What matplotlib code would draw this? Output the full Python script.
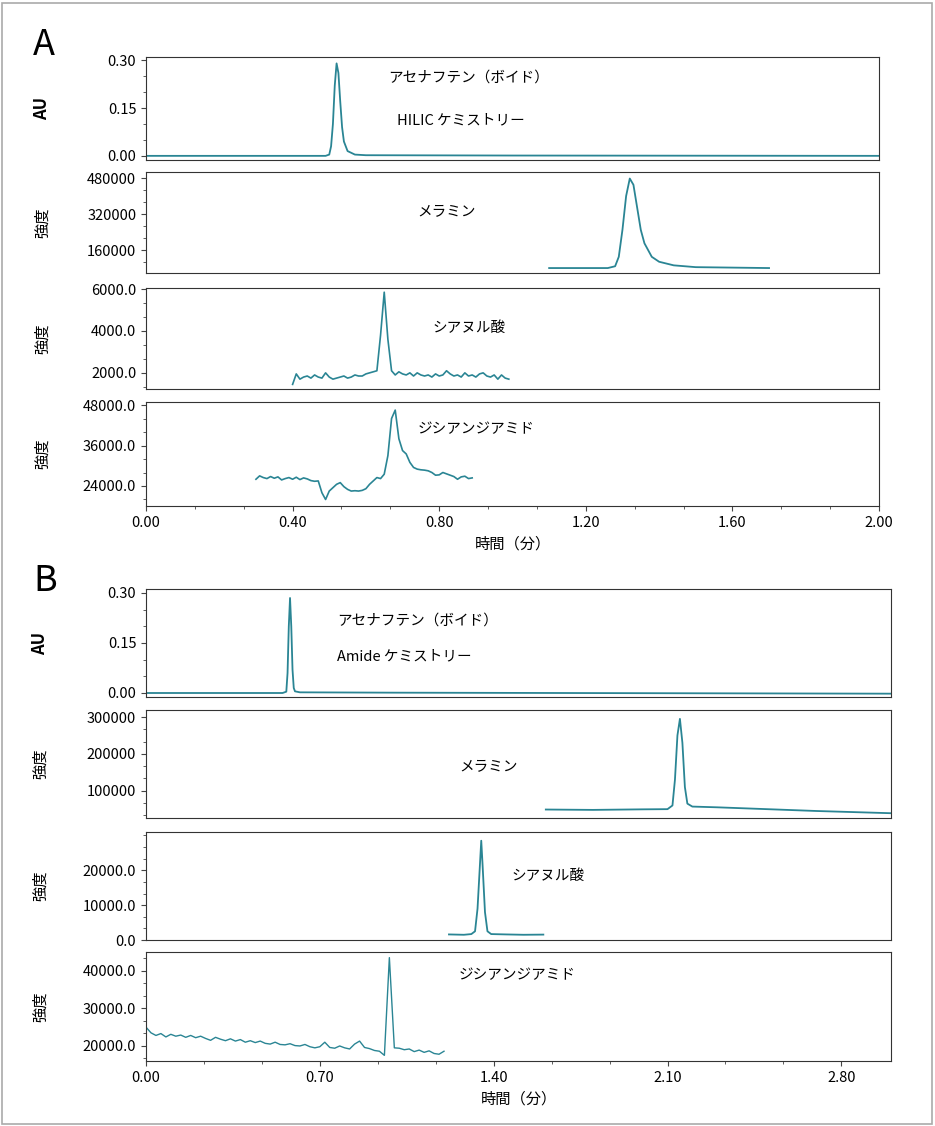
import matplotlib.pyplot as plt
import numpy as np
from matplotlib.ticker import FixedLocator, AutoMinorLocator

plt.rcParams['font.family'] = ['Noto Sans CJK JP', 'DejaVu Sans']
LC = '#2a8594'

# ---- data: panel A (HILIC) ----
a1_t = [0.00, 0.49, 0.50, 0.505, 0.51, 0.515, 0.52, 0.525, 0.53, 0.535, 0.54, 0.55, 0.57, 0.60, 1.00, 2.00]
a1_v = [0.00, 0.00, 0.004, 0.03, 0.10, 0.22, 0.29, 0.26, 0.17, 0.09, 0.045, 0.015, 0.004, 0.002, 0.001, 0.0]
a2_t = [1.10, 1.26, 1.28, 1.29, 1.30, 1.31, 1.32, 1.33, 1.34, 1.35, 1.36, 1.38, 1.40, 1.44, 1.50, 1.70]
a2_v = [80000, 80000, 88000, 130000, 250000, 400000, 478000, 450000, 350000, 250000, 190000, 130000, 108000, 92000, 84000, 80000]
a3_t0, a3_dt = 0.40, 0.01
a3_v = [1450, 1950, 1700, 1800, 1850, 1750, 1900, 1800, 1750, 2000,
         1800, 1700, 1750, 1800, 1850, 1750, 1800, 1900, 1850, 1850,
         1950, 2000, 2050, 2100, 3800, 5850, 3600, 2100, 1900, 2050,
         1950, 1900, 2000, 1850, 2000, 1900, 1850, 1900, 1800, 1950,
         1850, 1900, 2100, 1950, 1850, 1900, 1800, 2000, 1850, 1900,
         1800, 1950, 2000, 1850, 1800, 1900, 1700, 1900, 1750, 1700]
a4_t0, a4_dt = 0.30, 0.01
a4_v = [26000, 27000, 26500, 26200, 26800, 26300, 26700, 25800, 26200, 26500,
        26000, 26600, 25900, 26400, 26100, 25600, 25400, 25500, 22000, 20000,
        22500, 23500, 24500, 25000, 23800, 23000, 22500, 22600, 22500, 22700,
        23200, 24500, 25500, 26500, 26200, 27500, 33000, 44000, 46500, 38000,
        34500, 33500, 31000, 29500, 29000, 28800, 28700, 28500, 28000, 27200,
        27300, 28000, 27600, 27200, 26800, 26000, 26700, 26900, 26200, 26400]

# ---- data: panel B (Amide) ----
b1_t = [0.00, 0.55, 0.565, 0.57, 0.575, 0.58, 0.585, 0.59, 0.595, 0.60, 0.62, 1.00, 3.00]
b1_v = [0.00, 0.00, 0.004, 0.06, 0.20, 0.285, 0.20, 0.07, 0.015, 0.005, 0.002, 0.001, -0.002]
b2_t = [1.61, 1.80, 2.00, 2.10, 2.12, 2.13, 2.14, 2.15, 2.16, 2.17, 2.18, 2.20, 2.30, 2.50, 2.70, 2.90, 3.00]
b2_v = [49000, 48000, 49500, 50000, 60000, 130000, 250000, 295000, 230000, 110000, 65000, 57000, 55000, 50000, 45000, 41000, 39000]
b3_t = [1.22, 1.28, 1.31, 1.325, 1.335, 1.345, 1.35, 1.355, 1.365, 1.375, 1.39, 1.45, 1.52, 1.60]
b3_v = [1600, 1500, 1700, 2500, 9000, 22000, 28500, 22000, 8000, 2500, 1700, 1600, 1500, 1550]
b4_t0, b4_dt = 0.00, 0.02
b4_v = [25000, 23500, 22800, 23300, 22400, 23100, 22600, 22900, 22300, 22800,
        22200, 22600, 22000, 21500, 22300, 21800, 21400, 21900, 21300, 21700,
        21000, 21400, 20900, 21300, 20700, 20500, 21000, 20400, 20300, 20600,
        20100, 20000, 20400, 19800, 19500, 19800, 21000, 19600, 19400, 20000,
        19500, 19200, 20500, 21300, 19600, 19300, 18800, 18600, 17500, 43500,
        19500, 19400, 19000, 19200, 18500, 18900, 18300, 18700, 18000, 17800, 18600]

names = ['アセナフテン（ボイド）', 'メラミン', 'シアヌル酸', 'ジシアンジアミド']

fig = plt.figure(figsize=[9.35, 11.26], dpi=100)
W, H = 935, 1126

def add_ax(x0, x1, y0, y1):
    return fig.add_axes([x0 / W, 1 - y1 / H, (x1 - x0) / W, (y1 - y0) / H])

def style(ax, xlim, ylim, yticks, fmt, ylab, last, xticks):
    ax.set_xlim(*xlim)
    ax.set_ylim(*ylim)
    ax.yaxis.set_major_locator(FixedLocator(yticks))
    ax.set_yticklabels([fmt.format(v) for v in yticks], fontsize=10.5)
    ax.yaxis.set_minor_locator(AutoMinorLocator(3))
    ax.xaxis.set_major_locator(FixedLocator(xticks))
    ax.xaxis.set_minor_locator(AutoMinorLocator(3))
    ax.tick_params(which='both', direction='out', color='#444444', right=False, top=False)
    ax.tick_params(which='minor', length=2)
    if ylab == 'AU':
        ax.set_ylabel(ylab, fontsize=12, fontweight='bold')
    else:
        ax.set_ylabel(ylab, fontsize=11)
    ax.yaxis.set_label_coords(-0.13, 0.5)
    if last:
        ax.set_xticklabels(['{:.2f}'.format(v) for v in xticks], fontsize=10.5)
        ax.set_xlabel('時間（分）', fontsize=11)
    else:
        ax.tick_params(axis='x', which='both', bottom=False, labelbottom=False)
    for s in ax.spines.values():
        s.set_color('#333333')

def label(ax, x, y, s, ha='center'):
    ax.text(x, y, s, transform=ax.transAxes, ha=ha, va='center', fontsize=10.5)

# panel A
xa = (146, 879)
a_rows = [(57, 160), (172, 273), (288, 389), (402, 506)]
xta = [0.0, 0.4, 0.8, 1.2, 1.6, 2.0]
axs = [add_ax(xa[0], xa[1], *r) for r in a_rows]
axs[0].plot(a1_t, a1_v, color=LC, lw=1.3)
axs[1].plot(a2_t, a2_v, color=LC, lw=1.3)
axs[2].plot(a3_t0 + a3_dt * np.arange(len(a3_v)), a3_v, color=LC, lw=1.2)
axs[3].plot(a4_t0 + a4_dt * np.arange(len(a4_v)), a4_v, color=LC, lw=1.2)
style(axs[0], (0, 2), (-0.013, 0.31), [0, 0.15, 0.30], '{:.2f}', 'AU', False, xta)
style(axs[1], (0, 2), (58000, 507000), [160000, 320000, 480000], '{:.0f}', '強度', False, xta)
style(axs[2], (0, 2), (1230, 6050), [2000, 4000, 6000], '{:.1f}', '強度', False, xta)
style(axs[3], (0, 2), (18070, 48900), [24000, 36000, 48000], '{:.1f}', '強度', True, xta)
label(axs[0], 0.44, 0.80, names[0])
label(axs[0], 0.43, 0.38, 'HILIC ケミストリー')
label(axs[1], 0.41, 0.61, names[1])
label(axs[2], 0.44, 0.60, names[2])
label(axs[3], 0.45, 0.74, names[3])
fig.text(33 / W, 1 - 45 / H, 'A', fontsize=26, va='center')

# panel B
xb = (146, 891)
b_rows = [(589, 697), (710, 818), (832, 940), (952, 1061)]
xtb = [0.0, 0.7, 1.4, 2.1, 2.8]
bxs = [add_ax(xb[0], xb[1], *r) for r in b_rows]
bxs[0].plot(b1_t, b1_v, color=LC, lw=1.3)
bxs[1].plot(b2_t, b2_v, color=LC, lw=1.3)
bxs[2].plot(b3_t, b3_v, color=LC, lw=1.3)
bxs[3].plot(b4_t0 + b4_dt * np.arange(len(b4_v)), b4_v, color=LC, lw=1.0)
style(bxs[0], (0, 3), (-0.012, 0.312), [0, 0.15, 0.30], '{:.2f}', 'AU', False, xtb)
style(bxs[1], (0, 3), (26000, 319000), [100000, 200000, 300000], '{:.0f}', '強度', False, xtb)
style(bxs[2], (0, 3), (0, 31000), [0, 10000, 20000], '{:.1f}', '強度', False, xtb)
style(bxs[3], (0, 3), (16000, 45000), [20000, 30000, 40000], '{:.1f}', '強度', True, xtb)
label(bxs[0], 0.256, 0.71, names[0], ha='left')
label(bxs[0], 0.256, 0.38, 'Amide ケミストリー', ha='left')
label(bxs[1], 0.42, 0.48, names[1], ha='left')
label(bxs[2], 0.49, 0.59, names[2], ha='left')
label(bxs[3], 0.42, 0.79, names[3], ha='left')
fig.text(33 / W, 1 - 581 / H, 'B', fontsize=26, va='center')

# outer frame
fig.add_artist(plt.Rectangle((2 / W, 2 / H), 1 - 5 / W, 1 - 5 / H, transform=fig.transFigure,
                             fill=False, ec='#aaaaaa', lw=1.2))

fig.savefig('out.png', dpi=100)
